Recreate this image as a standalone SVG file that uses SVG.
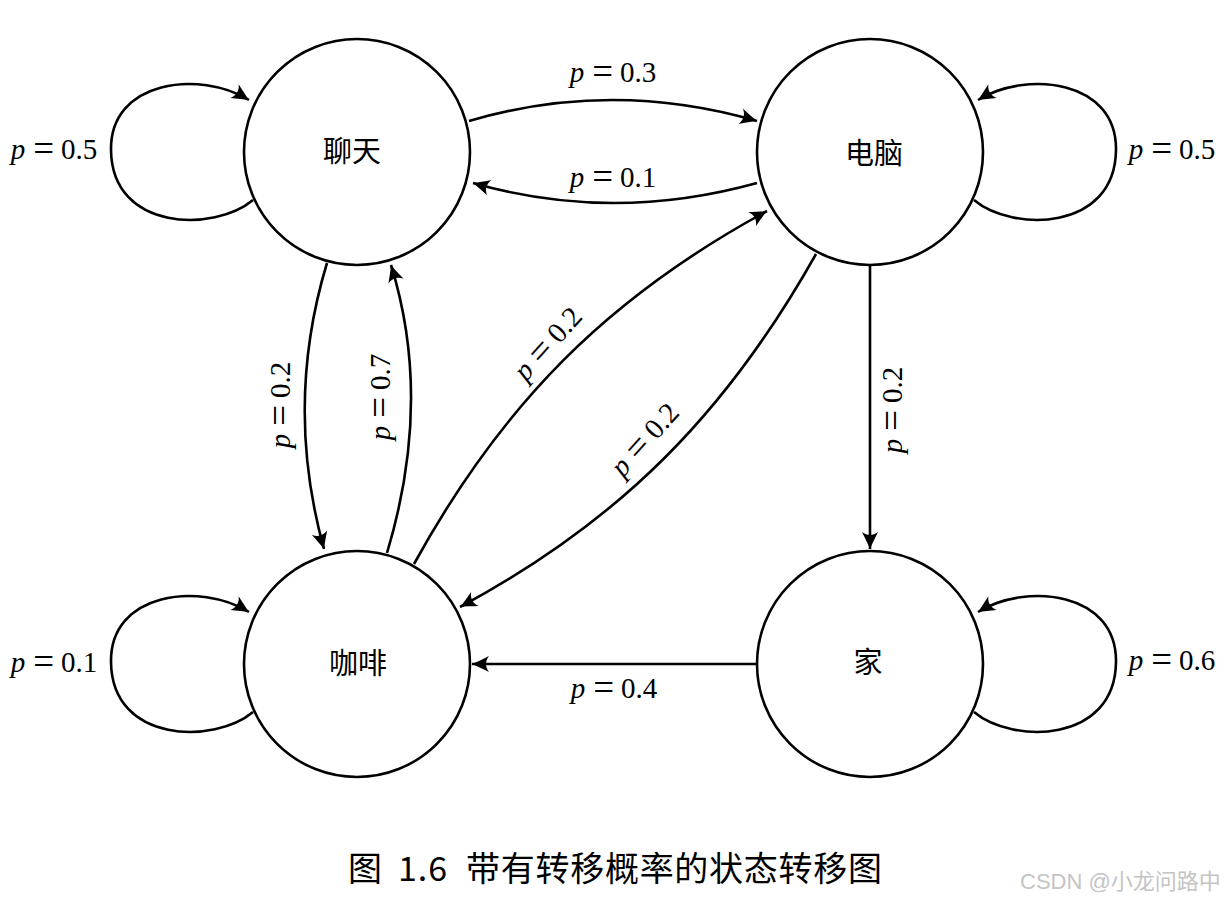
<svg xmlns="http://www.w3.org/2000/svg" width="1230" height="900" viewBox="0 0 1230 900">
<defs>
<marker id="arr" viewBox="-18 -9 20 18" refX="0" refY="0" markerWidth="20" markerHeight="18" markerUnits="userSpaceOnUse" orient="auto">
<path d="M0,0 C-5,-2 -11,-5 -17,-8 C-13,-3 -13,3 -17,8 C-11,5 -5,2 0,0 Z" fill="#000"/>
</marker>
<style>
.node circle{fill:#fff;stroke:#000;stroke-width:2.6}
.node text{font-family:"Noto Sans CJK SC",sans-serif;font-size:29px;fill:#000;text-anchor:middle}
.edges path{fill:none;stroke:#000;stroke-width:2.6;marker-end:url(#arr)}
.lbl{font-family:"Liberation Serif",serif;font-size:29px;fill:#000;text-anchor:middle}
.it{font-style:italic}
.eq{font-size:37px}
.cap{font-family:"Noto Sans CJK SC",sans-serif;font-size:34px;fill:#000}
.wm{font-family:"Liberation Sans","Noto Sans CJK SC",sans-serif;font-size:22px;fill:#c4c4c4}
</style>
</defs>
<rect width="1230" height="900" fill="#fff"/>

<g id="n-liaotian" class="node"><circle cx="357" cy="152" r="113"/><text x="352" y="152" dy="0.36em">聊天</text></g>
<g id="n-diannao" class="node"><circle cx="870" cy="152" r="113"/><text x="874" y="154" dy="0.36em">电脑</text></g>
<g id="n-kafei" class="node"><circle cx="357" cy="664" r="113"/><text x="358" y="664" dy="0.36em">咖啡</text></g>
<g id="n-jia" class="node"><circle cx="870" cy="664" r="113"/><text x="868" y="663" dy="0.36em">家</text></g>

<g id="edges" class="edges">
<path d="M253,200 C215,232 112,232 111,150 C110,80 200,70 249,100"/>
<path d="M974,200 C1012,232 1115,232 1116,150 C1117,80 1027,70 978,100"/>
<path d="M253,712 C215,744 112,744 111,662 C110,592 200,582 249,612"/>
<path d="M974,712 C1012,744 1115,744 1116,662 C1117,592 1027,582 978,612"/>
<path d="M469,121 Q612,79 757,121"/>
<path d="M757,183 Q613,223 473,183"/>
<path d="M327,263 Q284,405 324,549"/>
<path d="M387,553 Q433,400 391,265"/>
<path d="M414,564 C502,404 607,298 767,211"/>
<path d="M816,254 C726,414 620,521 460,607"/>
<path d="M870,266 L870,549"/>
<path d="M757,664 L472,664"/>
</g>

<g id="labels">
<text class="lbl" x="54" y="159"><tspan class="it">p</tspan><tspan class="eq" dx="8" dy="2">=</tspan><tspan dx="7" dy="-2">0.5</tspan></text>
<text class="lbl" x="1172" y="159"><tspan class="it">p</tspan><tspan class="eq" dx="8" dy="2">=</tspan><tspan dx="7" dy="-2">0.5</tspan></text>
<text class="lbl" x="54" y="672"><tspan class="it">p</tspan><tspan class="eq" dx="8" dy="2">=</tspan><tspan dx="7" dy="-2">0.1</tspan></text>
<text class="lbl" x="1172" y="670"><tspan class="it">p</tspan><tspan class="eq" dx="8" dy="2">=</tspan><tspan dx="7" dy="-2">0.6</tspan></text>
<text class="lbl" x="613" y="82"><tspan class="it">p</tspan><tspan class="eq" dx="8" dy="2">=</tspan><tspan dx="7" dy="-2">0.3</tspan></text>
<text class="lbl" x="613" y="187"><tspan class="it">p</tspan><tspan class="eq" dx="8" dy="2">=</tspan><tspan dx="7" dy="-2">0.1</tspan></text>
<text class="lbl" x="614" y="698"><tspan class="it">p</tspan><tspan class="eq" dx="8" dy="2">=</tspan><tspan dx="7" dy="-2">0.4</tspan></text>
<text class="lbl" transform="translate(290,405) rotate(-90)"><tspan class="it">p</tspan><tspan class="eq" dx="8" dy="2">=</tspan><tspan dx="7" dy="-2">0.2</tspan></text>
<text class="lbl" transform="translate(390,397) rotate(-90)"><tspan class="it">p</tspan><tspan class="eq" dx="8" dy="2">=</tspan><tspan dx="7" dy="-2">0.7</tspan></text>
<text class="lbl" transform="translate(902,410) rotate(-90)"><tspan class="it">p</tspan><tspan class="eq" dx="8" dy="2">=</tspan><tspan dx="7" dy="-2">0.2</tspan></text>
<text class="lbl" transform="translate(548,344) rotate(-48)" y="9"><tspan class="it">p</tspan><tspan class="eq" dx="8" dy="2">=</tspan><tspan dx="7" dy="-2">0.2</tspan></text>
<text class="lbl" transform="translate(645,440) rotate(-48)" y="9"><tspan class="it">p</tspan><tspan class="eq" dx="8" dy="2">=</tspan><tspan dx="7" dy="-2">0.2</tspan></text>
</g>

<g id="caption">
<text class="cap" x="348" y="881">图</text>
<text class="cap" x="398" y="881" textLength="49" lengthAdjust="spacing">1.6</text>
<text class="cap" x="466" y="881" textLength="416" lengthAdjust="spacing">带有转移概率的状态转移图</text>
</g>
<text class="wm" x="1020" y="889">CSDN @小龙问路中</text>
</svg>
